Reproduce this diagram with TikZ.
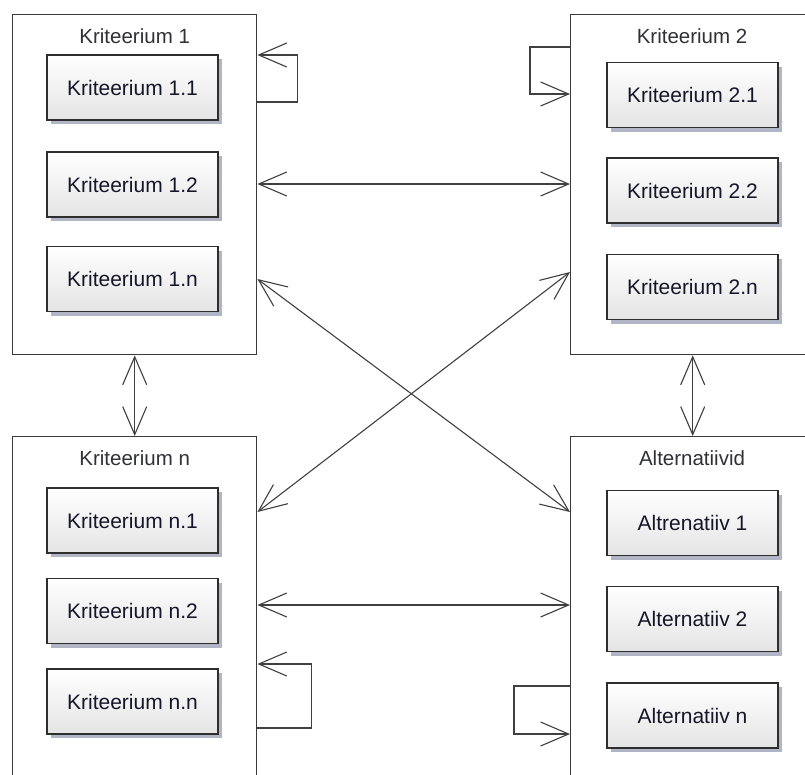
\documentclass[tikz,border=0pt]{standalone}
\usepackage{fontspec}
\setmainfont{Liberation Sans}
\usetikzlibrary{arrows.meta,shadows,calc}

\definecolor{linec}{HTML}{404040}
\definecolor{framec}{HTML}{3A3A3A}
\definecolor{itemborder}{HTML}{2E2E2E}
\definecolor{shadowc}{HTML}{B0B6C6}
\definecolor{textc}{HTML}{16162A}
\definecolor{titlec}{HTML}{303038}
\definecolor{itembottom}{HTML}{E4E4E4}

\tikzset{
  group/.style={draw=framec, line width=1.4pt, fill=white, anchor=north west,
    inner sep=0pt, minimum width=244pt},
  grouptitle/.style={font=\fontsize{20.5}{24}\selectfont, text=titlec, inner sep=0pt},
  item/.style={draw=itemborder, line width=1.8pt, top color=white, bottom color=itembottom,
    minimum width=171pt, minimum height=65pt, inner sep=0pt,
    font=\fontsize{21}{24}\selectfont, text=textc,
    drop shadow={shadow xshift=4pt, shadow yshift=-4pt, fill=shadowc, opacity=1}},
  link/.style={draw=linec, line width=1.1pt, {Straight Barb[length=28pt, width=24pt]}-{Straight Barb[length=28pt, width=24pt]}},
  selflink/.style={draw=linec, line width=1.1pt, -{Straight Barb[length=28pt, width=24pt]}}
}

\begin{document}
\begin{tikzpicture}[x=1pt, y=-1pt]
  \useasboundingbox (0,0) rectangle (805,774);
  \fill[white] (0,0) rectangle (805,774);
  \clip (0,0) rectangle (805,774);

  % group frames
  \node[group, minimum height=340pt] (k1) at (12,14) {};
  \node[group, minimum height=340pt] (k2) at (570,14) {};
  \node[group, minimum height=360pt] (kn) at (12,436) {};
  \node[group, minimum height=360pt] (alt) at (570,436) {};

  % group titles
  \node[grouptitle] (k1t) at ($(k1.north)+(0,22)$) {Kriteerium 1};
  \node[grouptitle] (k2t) at ($(k2.north west)+(122,22)$) {Kriteerium 2};
  \node[grouptitle] (knt) at ($(kn.north)+(0,22)$) {Kriteerium n};
  \node[grouptitle] (altt) at ($(alt.north west)+(122,22)$) {Alternatiivid};

  % members
  \node[item] (k11) at (132.5,87.5) {Kriteerium 1.1};
  \node[item] (k12) at (132.5,184.5) {Kriteerium 1.2};
  \node[item] (k1n) at (132.5,279) {Kriteerium 1.n};

  \node[item] (k21) at (692.5,95) {Kriteerium 2.1};
  \node[item] (k22) at (692.5,190.5) {Kriteerium 2.2};
  \node[item] (k2n) at (692.5,287) {Kriteerium 2.n};

  \node[item] (kn1) at (132.5,520.5) {Kriteerium n.1};
  \node[item] (kn2) at (132.5,611) {Kriteerium n.2};
  \node[item] (knn) at (132.5,701.5) {Kriteerium n.n};

  \node[item] (a1) at (692.5,523) {Altrenatiiv 1};
  \node[item] (a2) at (692.5,619) {Alternatiiv 2};
  \node[item] (an) at (692.5,715.5) {Alternatiiv n};

  % heights where connectors meet the frames
  \coordinate (ytop) at (0,184);
  \coordinate (ybot) at (0,605);
  \coordinate (yd1) at (0,279);
  \coordinate (yd2) at (0,272);
  \coordinate (yd3) at (0,512);

  % links between groups
  \draw[link] (k1.east |- ytop) -- (k2.west |- ytop);
  \draw[link] (kn.east |- ybot) -- (alt.west |- ybot);
  \draw[link] (k1.south) -- (kn.north);
  \draw[link] (k2.south) -- (alt.north);
  \draw[link] (k1.east |- yd1) -- (alt.west |- yd3);
  \draw[link] (k2.west |- yd2) -- (kn.east |- yd3);

  % self references
  \draw[selflink] ($(k1.north east)+(0,88)$) -- ++(40,0) -- ++(0,-47) -- ($(k1.north east)+(0,41)$);
  \draw[selflink] ($(k2.north west)+(0,33)$) -- ++(-40,0) -- ++(0,47) -- ($(k2.north west)+(0,80)$);
  \draw[selflink] ($(kn.north east)+(0,292)$) -- ++(54,0) -- ++(0,-64) -- ($(kn.north east)+(0,228)$);
  \draw[selflink] ($(alt.north west)+(0,250)$) -- ++(-56,0) -- ++(0,48) -- ($(alt.north west)+(0,298)$);
\end{tikzpicture}
\end{document}
